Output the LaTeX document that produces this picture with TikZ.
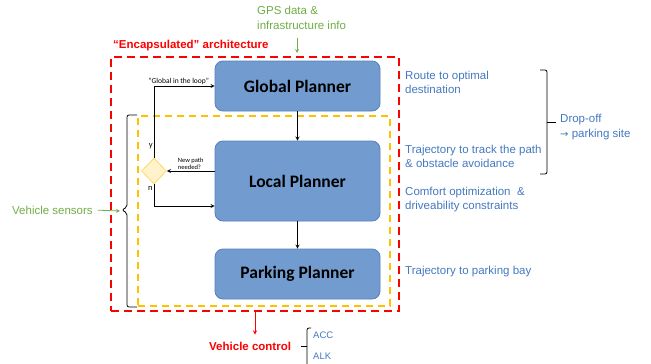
\documentclass[tikz,border=0pt]{standalone}
\usepackage{fontspec}
\setmainfont{Liberation Sans}
\newfontfamily\calibri{Carlito}
\newfontfamily\dejavu{DejaVu Sans}
\usepackage{tikz}
\usetikzlibrary{arrows}
\usetikzlibrary{shapes}
\definecolor{planfill}{RGB}{114,156,208}
\definecolor{planline}{RGB}{88,128,188}
\definecolor{noteblue}{RGB}{68,120,192}
\definecolor{sensgreen}{RGB}{112,173,71}
\definecolor{encred}{RGB}{255,0,0}
\definecolor{locorange}{RGB}{255,192,0}
\definecolor{decfill}{RGB}{255,242,204}
\definecolor{decline}{RGB}{255,217,102}
\tikzstyle{tran}  = [
    draw,
    ->,
    >=stealth,
    line width=0.8pt
]
\tikzstyle{garr}  = [
    draw=sensgreen,
    ->,
    >=stealth,
    line width=0.8pt
]
\tikzstyle{rarr}  = [
    draw=encred,
    ->,
    >=stealth,
    line width=0.9pt
]
\tikzstyle{planner}  = [
    shape=rectangle,
    rounded corners=8pt,
    draw=planline,
    fill=planfill,
    line width=0.8pt,
    minimum width=165pt,
    font=\calibri\bfseries\fontsize{17.5}{20}\selectfont
]
\tikzstyle{dec}  = [
    shape=diamond,
    draw=decline,
    fill=decfill,
    line width=0.8pt,
    inner sep=0pt,
    minimum width=25pt,
    minimum height=26pt
]
\tikzstyle{encap}  = [
    draw=encred,
    line width=2.2pt,
    dash pattern=on 8pt off 5pt
]
\tikzstyle{locbox}  = [
    draw=locorange,
    line width=2pt,
    dash pattern=on 7pt off 5pt
]
\tikzstyle{note}  = [
    anchor=west,
    inner sep=0pt,
    align=left,
    text=noteblue,
    font=\fontsize{11.5}{14.5}\selectfont
]
\tikzstyle{lbl}  = [
    inner sep=1pt,
    font=\calibri\fontsize{7.5}{8.5}\selectfont
]
\tikzstyle{brk}  = [
    draw,
    line width=0.8pt,
    rounded corners=2pt
]

\begin{document}
\begin{tikzpicture}[x = 1pt, y = -1pt]
\useasboundingbox (0,0) rectangle (651,364);
\node[encap, minimum width=288pt, minimum height=254pt] (enc) at (255,184) {};
\node[locbox, minimum width=252pt, minimum height=190pt] (loc) at (264,211) {};
\node[anchor=west, inner sep=0pt, text=encred, font=\bfseries\fontsize{11.5}{14}\selectfont] (enctxt) at (113,46) {“Encapsulated” architecture};

\node[planner, minimum height=50pt] (gp) at (297.5,86)  {Global Planner};
\node[planner, minimum height=80pt] (lp) at (297.5,181) {Local Planner};
\node[planner, minimum height=50pt] (pp) at (297.5,274) {Parking Planner};
\node[dec] (nd) at (154,171) {};

\draw[tran] (gp) to (lp);
\draw[tran] (lp) to (pp);
\draw[tran] ([yshift=10pt]lp.west) to node[lbl, above, align=left, font=\calibri\fontsize{6.5}{7.5}\selectfont] {New path\\needed?} (nd.east);
\draw[tran] (nd.north) |- node[lbl, pos=0.705, above] {“Global in the loop”} node[lbl, pos=0.08, left, font=\calibri\fontsize{8.5}{9}\selectfont] {y} (gp.west);
\draw[tran] (nd.south) |- node[lbl, pos=0.09, left, font=\calibri\fontsize{8.5}{9}\selectfont] {n} ([yshift=-25pt]lp.west);

\node[note, text=sensgreen] (gps) at (257,18) {GPS data \&\\infrastructure info};
\coordinate (gpsin) at (297,53);
\draw[garr, shorten <=8pt] (gps.south -| gpsin) to (gpsin);

\node[note, text=sensgreen] (sens) at (12,210) {Vehicle sensors};
\coordinate (stip) at (120,211);
\draw[garr, shorten <=5pt] (sens.east) to (stip);
\draw[brk] (loc.north west) -- ++(-10,0) -- ++(0,92) -- ++(-5,3) -- ++(5,3) |- (loc.south west);

\node[note] (route)   at (405,82.5)  {Route to optimal\\destination};
\node[note] (track)   at (405,156.5) {Trajectory to track the path\\\& obstacle avoidance};
\node[note] (comfort) at (405,199.5) {Comfort optimization~~\&\\driveability constraints};
\node[note] (bay)     at (405,272)   {Trajectory to parking bay};

\coordinate (rbt) at (540,70);
\coordinate (rbtip) at (556,122);
\draw[brk] (rbt) -- ++(7,0) -- ++(0,104) -- ++(-7,0);
\draw[brk] (rbtip) -- ++(-9,0);
\node[note] (drop) at (560,127) {Drop-off\\{\dejavu\fontsize{10}{14.5}\selectfont →} parking site};

\node[anchor=west, inner sep=0pt, text=encred, font=\bfseries\fontsize{11.5}{14}\selectfont] (vctrl) at (209,346) {Vehicle control};
\draw[rarr, shorten >=7pt] (enc.south) to (enc.south |- vctrl.north);
\coordinate (act) at (311,328);
\coordinate (actip) at (301,346);
\draw[brk] (act) -- ++(-4,0) -- ++(0,40);
\draw[brk] (actip) -- ++(6,0);
\node[note, font=\fontsize{9.5}{11}\selectfont] (acc) at (313,335) {ACC};
\node[note, font=\fontsize{9.5}{11}\selectfont] (alk) at (313,356) {ALK};

\end{tikzpicture}
\end{document}
